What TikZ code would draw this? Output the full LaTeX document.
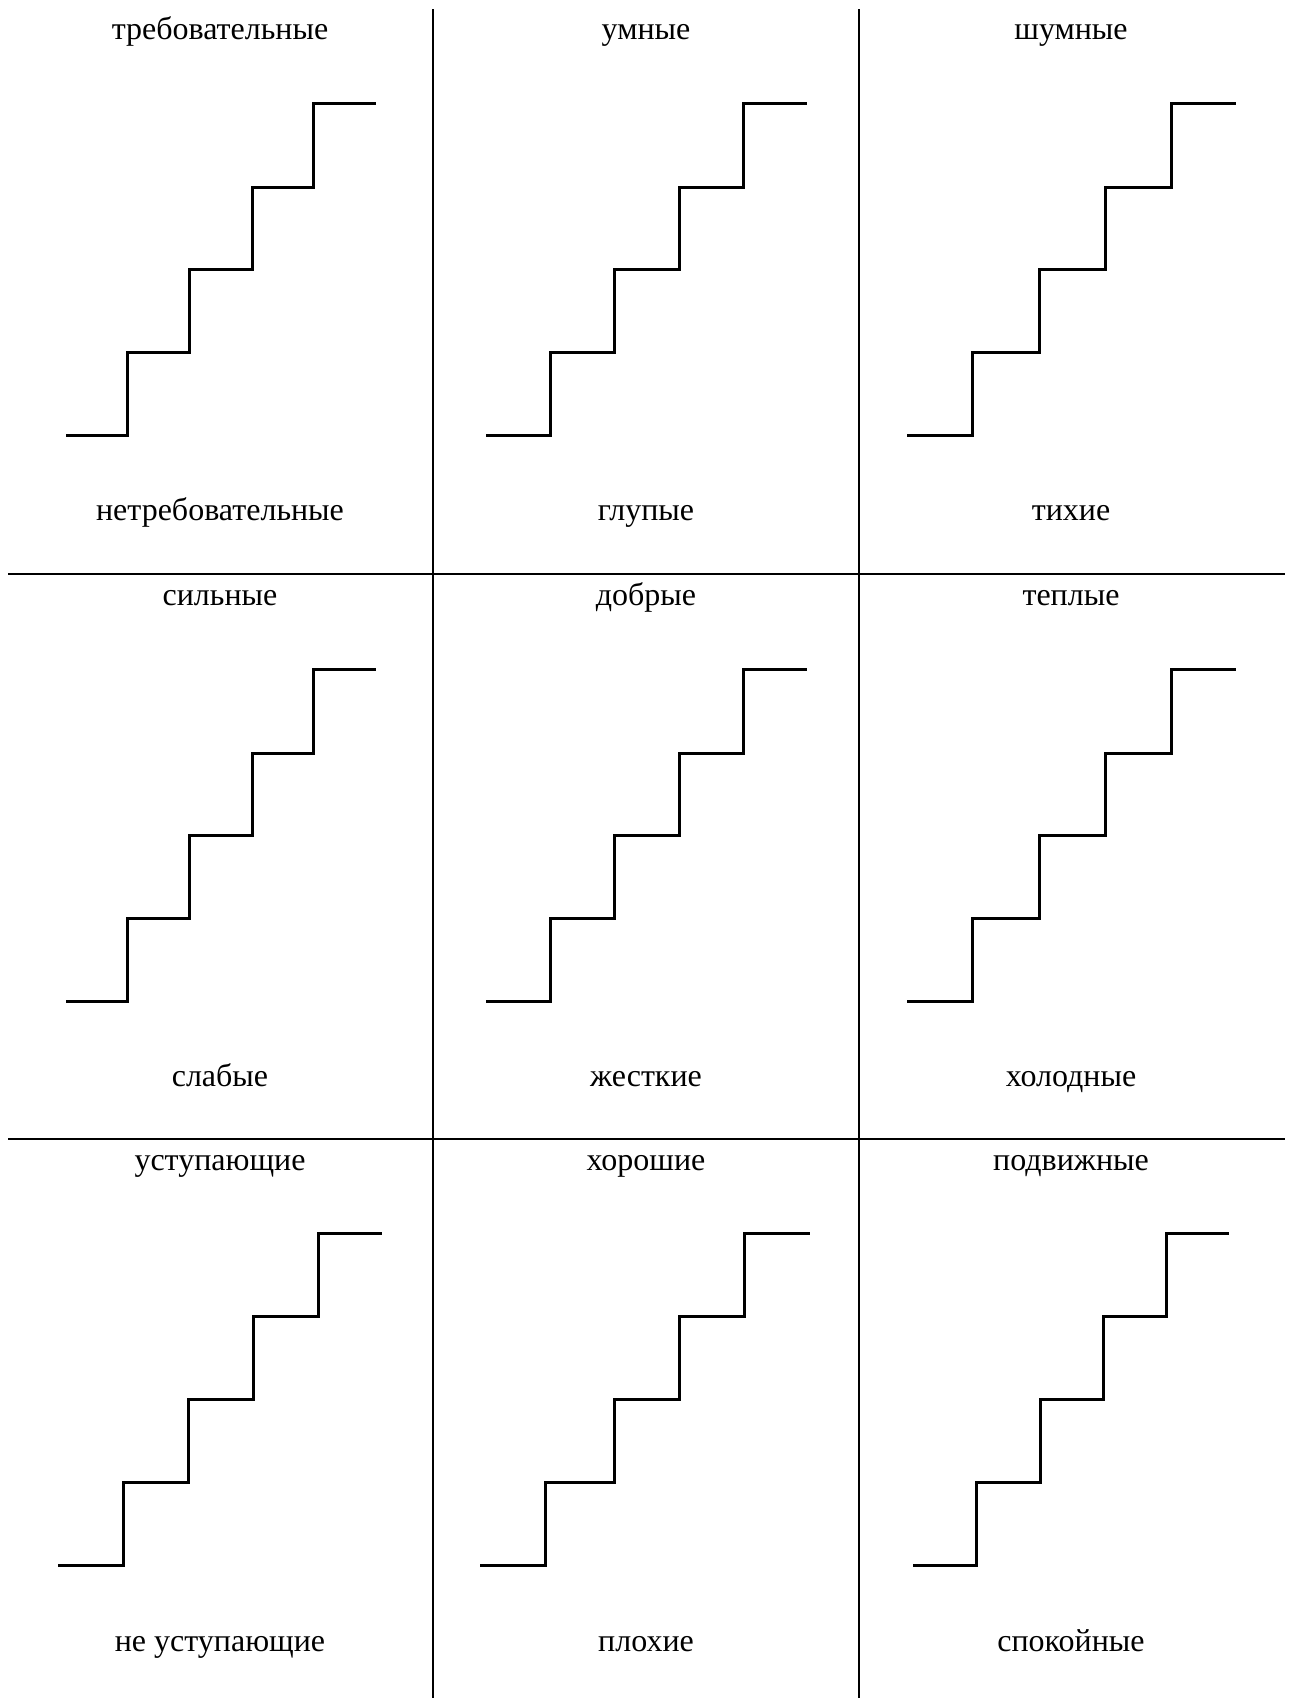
\documentclass[tikz,border=0pt]{standalone}
\usepackage{fontspec}
\setmainfont{Liberation Serif}
\tikzset{
  word/.style={anchor=base, inner sep=0pt, font=\fontsize{32}{38}\selectfont},
  stairline/.style={line width=3pt, line cap=butt, line join=miter},
  gridline/.style={line width=2pt}
}
\newcommand{\stairdraw}[6]{% x0,x1,x2 ; given as lists
}
\begin{document}
\begin{tikzpicture}[x=1pt,y=-1pt]
\useasboundingbox (0,0) rectangle (1291,1698);
\fill[white] (0,0) rectangle (1291,1698);
% grid
\draw[gridline] (433,9) -- (433,1698);
\draw[gridline] (859,9) -- (859,1698);
\draw[gridline] (8,574) -- (1285,574);
\draw[gridline] (8,1139) -- (1285,1139);
% row 1
\draw[stairline] (66,435) -| (127,352) -| (189,269) -| (252,187) -| (313,103) -- (376,103);
\draw[stairline] (486,435) -| (550,352) -| (614,269) -| (679,187) -| (743,103) -- (807,103);
\draw[stairline] (907,435) -| (972,352) -| (1039,269) -| (1105,187) -| (1171,103) -- (1236,103);
% row 2
\draw[stairline] (66,1001) -| (127,918) -| (189,835) -| (252,753) -| (313,669) -- (376,669);
\draw[stairline] (486,1001) -| (550,918) -| (614,835) -| (679,753) -| (743,669) -- (807,669);
\draw[stairline] (907,1001) -| (972,918) -| (1039,835) -| (1105,753) -| (1171,669) -- (1236,669);
% row 3
\draw[stairline] (58,1565) -| (123,1482) -| (188,1399) -| (253,1316) -| (318,1233) -- (382,1233);
\draw[stairline] (480,1565) -| (545,1482) -| (614,1399) -| (679,1316) -| (744,1233) -- (810,1233);
\draw[stairline] (913,1565) -| (976,1482) -| (1040,1399) -| (1103,1316) -| (1166,1233) -- (1229,1233);
% labels row 1
\node[word] (t11) at (220,39) {требовательные};
\node[word] (b11) at (220,520) {нетребовательные};
\node[word] (t12) at (646,39) {умные};
\node[word] (b12) at (646,520) {глупые};
\node[word] (t13) at (1071,39) {шумные};
\node[word] (b13) at (1071,520) {тихие};
% labels row 2
\node[word] (t21) at (220,605) {сильные};
\node[word] (b21) at (220,1086) {слабые};
\node[word] (t22) at (646,605) {добрые};
\node[word] (b22) at (646,1086) {жесткие};
\node[word] (t23) at (1071,605) {теплые};
\node[word] (b23) at (1071,1086) {холодные};
% labels row 3
\node[word] (t31) at (220,1170) {уступающие};
\node[word] (b31) at (220,1651) {не уступающие};
\node[word] (t32) at (646,1170) {хорошие};
\node[word] (b32) at (646,1651) {плохие};
\node[word] (t33) at (1071,1170) {подвижные};
\node[word] (b33) at (1071,1651) {спокойные};
\end{tikzpicture}
\end{document}
